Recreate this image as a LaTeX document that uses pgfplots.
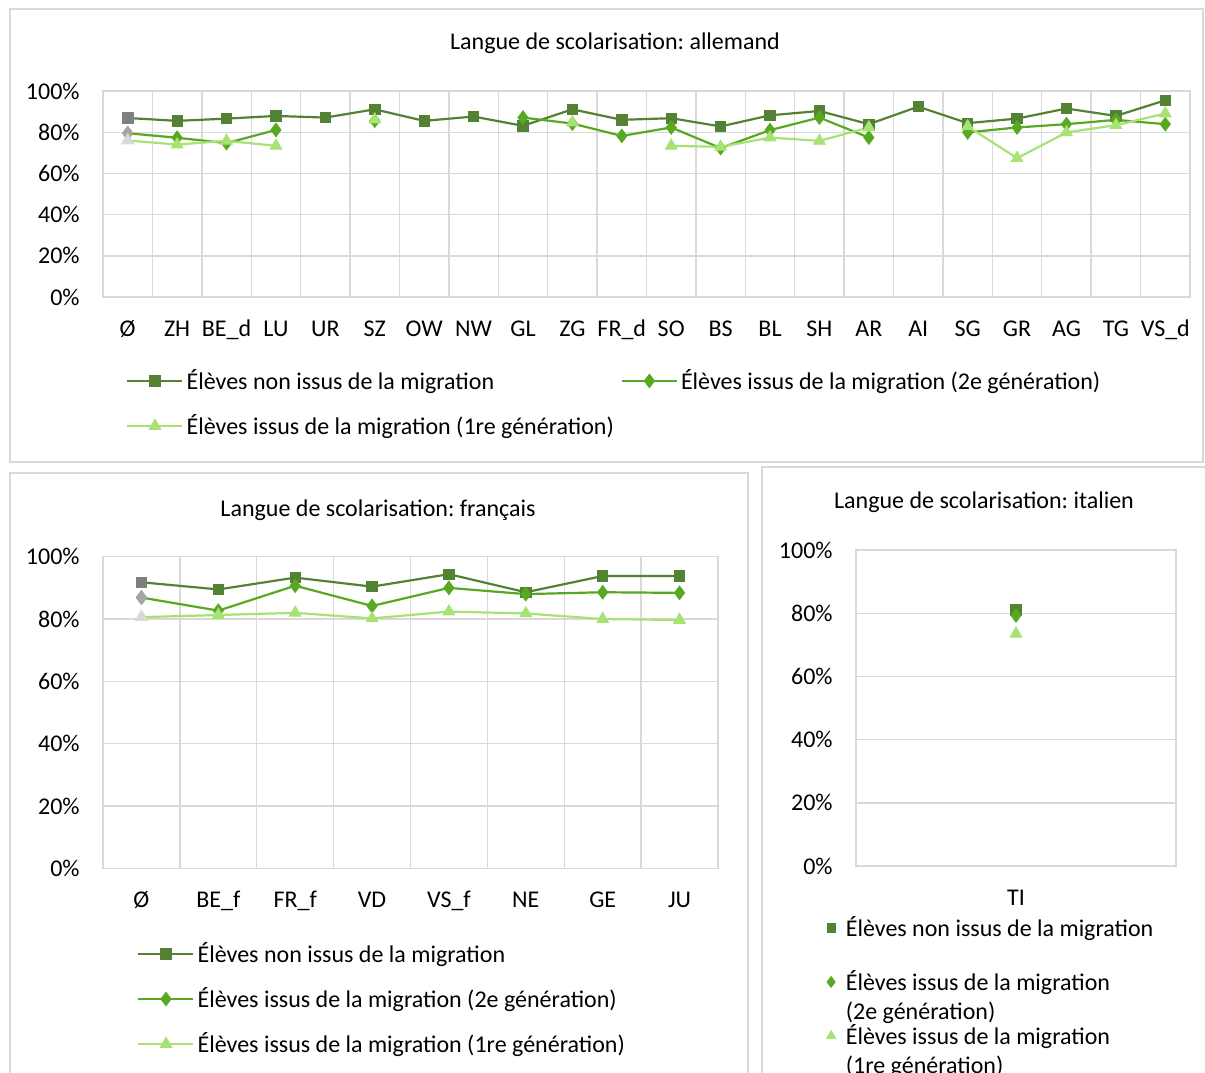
\documentclass[border=0pt]{standalone}
\usepackage{fontspec}
\setmainfont{Carlito}
\usepackage{pgfplots}
\pgfplotsset{compat=1.18}
\frenchspacing

\definecolor{gA}{HTML}{548235}
\definecolor{gB}{HTML}{58A821}
\definecolor{gC}{HTML}{A6E274}
\definecolor{grA}{HTML}{7F7F7F}
\definecolor{grB}{HTML}{A5A5A5}
\definecolor{grC}{HTML}{D9D9D9}
\definecolor{gridc}{HTML}{D9D9D9}

\newcommand{\fs}{\fontsize{12}{14.5}\selectfont}
% second line of a legend entry, hanging below the first
\newcommand{\below}[1]{\makebox[0pt][l]{\raisebox{-14.5pt}[0pt][0pt]{#1}}}

\pgfplotsset{
  panel/.style={
    scale only axis,
    anchor=south west,
    ymin=0, ymax=100, ytick={0,20,...,100},
    yticklabel={\pgfmathprintnumber{\tick}\%},
    /pgf/number format/assume math mode=true,
    axis line style={draw=gridc, line width=0.7pt},
    ymajorgrids, xminorgrids,
    grid style={draw=gridc, line width=0.7pt},
    minor grid style={draw=gridc, line width=0.7pt},
    major grid style={draw=gridc, line width=0.7pt},
    major tick length=0pt, minor tick length=0pt,
    ticklabel style={font=\fs},
    xticklabel style={anchor=base, yshift=-19.5pt, inner sep=0pt},
    yticklabel style={anchor=east, xshift=-11.5pt, inner sep=0pt},
    unbounded coords=jump,
    legend cell align=left,
    legend style={draw=none, fill=none, font=\fs, inner sep=0pt,
      anchor=north west, at={(axis description cs:0,0)},
      nodes={inner sep=0pt},
      /tikz/every odd column/.style={column sep=1.5pt},
      /tikz/every even column/.style={column sep=3.5pt}},
    legend image code/.code={\draw[mark repeat=2,mark phase=2,##1] plot coordinates {(0pt,0pt) (13.75pt,0pt) (27.5pt,0pt)};},
  },
  marklegend/.style={
    legend image code/.code={\draw[##1, scale=0.8] plot coordinates {(0pt,0pt)};},
  },
  sA/.style={color=gA, line width=1.1pt, mark=square*, mark size=2.6pt, mark options={solid, line width=0.4pt}},
  sB/.style={color=gB, line width=1.1pt, mark=diamond*, mark size=3.4pt, mark options={solid, line width=0.4pt}},
  sC/.style={color=gC, line width=1.1pt, mark=triangle*, mark size=3.4pt, mark options={solid, line width=0.4pt}},
}

\begin{document}
\begin{tikzpicture}
\useasboundingbox (0pt,0pt) rectangle (602.5pt,-536pt);
\clip (0pt,0pt) rectangle (602.5pt,-536pt);

% chart frames
\draw[gridc, line width=0.65pt] (5pt,-4.5pt) rectangle (601.5pt,-231pt);
\draw[gridc, line width=0.65pt] (5pt,-236.5pt) rectangle (374pt,-545pt);
\draw[gridc, line width=0.65pt] (381pt,-233.5pt) rectangle (610pt,-545pt);

% titles
\node[font=\fs] at (307.5pt,-21.5pt) {Langue de scolarisation: allemand};
\node[font=\fs] at (189pt,-255pt) {Langue de scolarisation: français};
\node[font=\fs] at (492pt,-251pt) {Langue de scolarisation: italien};

% allemand
\begin{axis}[panel,
  at={(51.5pt,-148.5pt)}, width=543.5pt, height=103pt,
  xmin=-0.5, xmax=21.5,
  xtick={0,...,21},
  xticklabels={Ø,ZH,BE\_d,LU,UR,SZ,OW,NW,GL,ZG,FR\_d,SO,BS,BL,SH,AR,AI,SG,GR,AG,TG,VS\_d},
  minor xtick={0.5,1.5,...,20.5},
  legend columns=2,
  legend style={xshift=11.5pt, yshift=-36pt, row sep=11pt},
]
\addplot[sA] coordinates {
  (0,86.9) (1,85.5) (2,86.6) (3,87.9) (4,87.1) (5,91.1) (6,85.5) (7,87.6)
  (8,83.1) (9,91.1) (10,86.0) (11,86.8) (12,82.8) (13,88.2) (14,90.3) (15,83.9)
  (16,92.4) (17,84.4) (18,86.6) (19,91.5) (20,87.9) (21,95.5)};
\addplot[sB] coordinates {
  (0,79.5) (1,77.3) (2,74.7) (3,81.1) (4,nan) (5,85.6) (6,nan) (7,nan)
  (8,87.1) (9,84.2) (10,78.2) (11,82.3) (12,72.3) (13,81.0) (14,87.1) (15,77.4)
  (16,nan) (17,79.9) (18,82.3) (19,83.9) (20,86.0) (21,83.9)};
\addplot[sC] coordinates {
  (0,76.0) (1,74.0) (2,75.8) (3,73.4) (4,nan) (5,86.1) (6,nan) (7,nan)
  (8,nan) (9,84.7) (10,nan) (11,73.4) (12,72.9) (13,77.4) (14,75.8) (15,82.3)
  (16,nan) (17,82.8) (18,67.4) (19,79.9) (20,83.4) (21,89.1)};
\addplot[sA, only marks, color=grA, forget plot] coordinates {(0,86.9)};
\addplot[sB, only marks, color=grB, forget plot] coordinates {(0,79.5)};
\addplot[sC, only marks, color=grC, forget plot] coordinates {(0,76.0)};
\legend{Élèves non issus de la migration, Élèves issus de la migration (2e génération), Élèves issus de la migration (1re génération)}
\end{axis}

% francais
\begin{axis}[panel,
  at={(51.5pt,-434.2pt)}, width=307.5pt, height=155.85pt,
  xmin=-0.5, xmax=7.5,
  xtick={0,...,7},
  xticklabels={Ø,BE\_f,FR\_f,VD,VS\_f,NE,GE,JU},
  minor xtick={0.5,1.5,...,6.5},
  legend style={xshift=17pt, yshift=-36.8pt, row sep=11pt},
]
\addplot[sA] coordinates {
  (0,91.8) (1,89.5) (2,93.3) (3,90.4) (4,94.4) (5,88.6) (6,93.8) (7,93.8)};
\addplot[sB] coordinates {
  (0,86.9) (1,82.7) (2,90.7) (3,84.2) (4,90.0) (5,88.0) (6,88.6) (7,88.4)};
\addplot[sC] coordinates {
  (0,80.6) (1,81.3) (2,82.0) (3,80.2) (4,82.4) (5,81.8) (6,80.0) (7,79.7)};
\addplot[sA, only marks, color=grA, forget plot] coordinates {(0,91.8)};
\addplot[sB, only marks, color=grB, forget plot] coordinates {(0,86.9)};
\addplot[sC, only marks, color=grC, forget plot] coordinates {(0,80.6)};
\legend{Élèves non issus de la migration, Élèves issus de la migration (2e génération), Élèves issus de la migration (1re génération)}
\end{axis}

% italien
\begin{axis}[panel, marklegend,
  at={(428pt,-433pt)}, width=160pt, height=158pt,
  xmin=-0.5, xmax=0.5,
  xtick={0}, xticklabels={TI},
  legend style={xshift=-15pt, yshift=-25pt, row sep=15.5pt,
    /tikz/every odd column/.style={column sep=5pt}},
]
\addplot[sA, only marks] coordinates {(0,81.1)};
\addplot[sB, only marks] coordinates {(0,79.3)};
\addplot[sC, only marks] coordinates {(0,73.5)};
\legend{Élèves non issus de la migration, \below{(2e génération)}Élèves issus de la migration, \below{(1re génération)}Élèves issus de la migration}
\end{axis}
\end{tikzpicture}
\end{document}
